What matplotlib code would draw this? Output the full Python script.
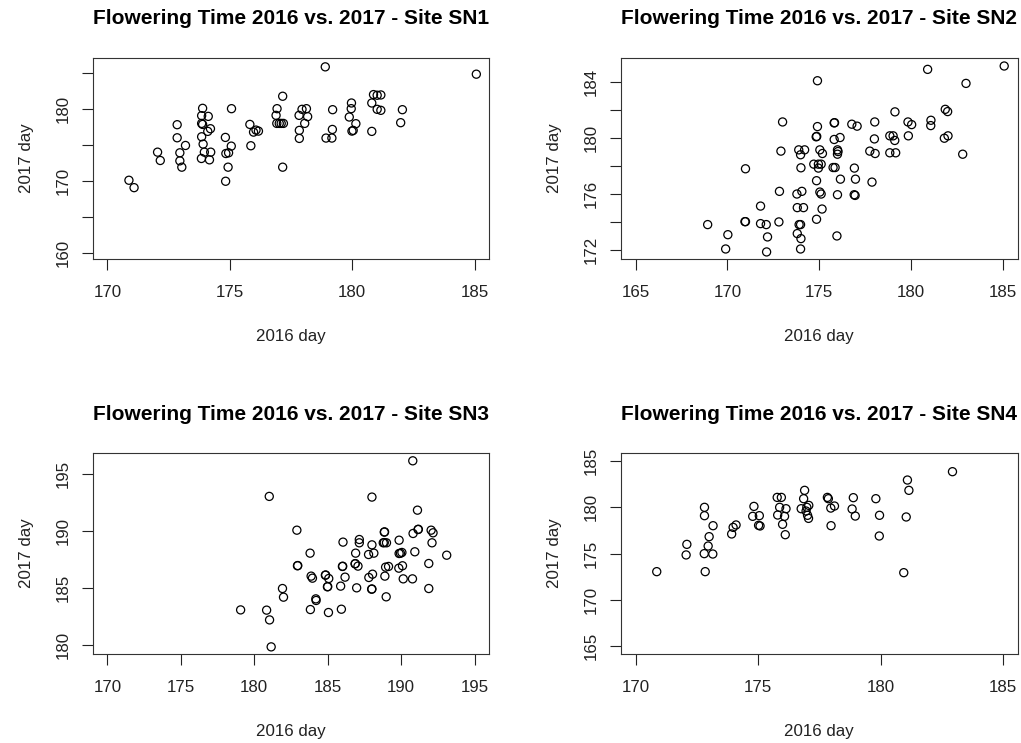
import matplotlib
matplotlib.use("Agg")
import matplotlib.pyplot as plt

plt.rcParams['font.family'] = ['Liberation Sans', 'DejaVu Sans']

# ---- data: (2016 day, 2017 day), jittered as in the reference ----
sn1_x = [170.88, 171.09, 172.05, 172.16, 172.85, 172.85, 172.96, 172.96, 173.04, 173.19,
         173.89, 173.85, 174.12, 173.85, 173.89, 174.21, 174.10, 173.85, 173.91, 173.96,
         174.22, 173.84, 174.17, 175.07, 174.82, 175.06, 174.84, 174.95, 174.93, 174.83,
         175.82, 175.97, 176.07, 176.17, 175.86, 177.16, 176.93, 176.89, 176.92, 177.02,
         177.10, 177.19, 177.16, 178.90, 177.83, 177.95, 178.13, 178.18, 178.06, 177.84,
         177.84, 178.93, 179.17, 179.19, 179.20, 179.97, 179.96, 179.88, 180.15, 179.99,
         180.04, 180.80, 180.87, 181.02, 181.17, 181.02, 181.17, 180.80, 182.05, 181.98,
         185.07]
sn1_y = [170.13, 169.10, 174.04, 172.88, 177.86, 176.04, 173.95, 172.83, 171.95, 174.97,
         180.14, 179.12, 179.02, 178.04, 177.90, 177.30, 176.93, 176.18, 175.16, 174.04,
         174.04, 173.16, 172.97, 180.09, 176.09, 174.88, 173.85, 173.95, 171.95, 169.99,
         177.90, 176.83, 177.11, 176.97, 174.93, 181.82, 180.09, 179.16, 178.04, 178.04,
         178.04, 178.04, 171.95, 185.91, 179.16, 180.00, 180.09, 178.98, 178.04, 177.07,
         175.95, 176.00, 176.00, 177.20, 179.95, 180.88, 180.09, 178.93, 178.00, 176.97,
         177.07, 180.88, 182.05, 181.96, 182.00, 180.00, 179.86, 176.93, 179.95, 178.14,
         184.89]

sn2_x = [168.92, 170.02, 169.90, 170.95, 170.98, 170.98, 171.80, 171.80, 172.11, 172.18,
         172.13, 172.80, 172.83, 172.91, 173.00, 173.78, 174.05, 173.80, 174.14, 173.90,
         173.98, 173.80, 174.00, 173.98, 173.88, 174.20, 173.98, 174.00, 174.90, 174.90,
         174.83, 174.86, 174.70, 174.95, 175.10, 174.95, 175.03, 175.17, 174.85, 175.03,
         175.10, 175.15, 174.85, 175.81, 175.83, 175.81, 176.13, 175.99, 175.99, 176.02,
         175.75, 175.86, 176.15, 175.99, 175.96, 176.77, 177.06, 176.91, 176.97, 176.90,
         176.95, 177.87, 177.75, 178.04, 178.02, 178.00, 178.84, 179.02, 179.11, 178.84,
         179.16, 179.12, 179.85, 179.83, 180.03, 180.90, 181.08, 181.07, 181.86, 181.99,
         181.81, 182.01, 182.81, 182.99, 185.07]
sn2_y = [173.83, 173.11, 172.09, 174.04, 174.04, 177.81, 175.15, 173.90, 173.83, 172.95,
         171.88, 174.02, 176.20, 179.07, 181.15, 176.01, 176.20, 175.04, 175.04, 173.83,
         173.83, 173.19, 172.83, 172.09, 179.16, 179.16, 178.81, 177.88, 184.09, 180.82,
         180.09, 180.12, 178.14, 178.14, 178.14, 177.86, 179.16, 178.90, 176.96, 176.15,
         176.01, 174.94, 174.21, 181.08, 181.10, 179.90, 180.04, 179.16, 178.85, 179.04,
         177.90, 177.90, 177.07, 175.96, 173.02, 180.99, 180.85, 177.86, 177.07, 175.96,
         175.91, 176.86, 179.07, 178.90, 181.15, 179.94, 180.16, 180.16, 179.83, 178.95,
         178.95, 181.87, 180.16, 181.15, 180.96, 184.90, 181.27, 180.89, 182.05, 181.89,
         179.99, 180.16, 178.85, 183.90, 185.14]

sn3_x = [190.79, 181.02, 188.01, 191.11, 182.90, 188.85, 188.87, 190.81, 191.15, 191.17,
         192.04, 192.17, 186.04, 187.15, 187.15, 188.01, 188.78, 188.85, 189.00, 189.86,
         192.10, 183.80, 186.90, 187.78, 188.14, 189.86, 189.95, 190.05, 190.93, 193.10,
         182.94, 182.96, 186.00, 186.02, 186.86, 186.88, 187.06, 188.94, 189.14, 189.84,
         190.09, 191.88, 183.87, 183.96, 184.84, 184.86, 185.07, 186.18, 187.80, 188.05,
         188.89, 190.14, 190.77, 181.92, 181.99, 184.19, 184.21, 184.98, 185.00, 185.88,
         186.97, 187.99, 188.01, 188.98, 191.88, 179.07, 180.84, 181.04, 183.82, 185.05,
         185.93, 181.15]
sn3_y = [196.17, 193.04, 192.98, 191.83, 190.07, 189.90, 189.92, 189.78, 190.13, 190.15,
         190.07, 189.84, 189.02, 189.25, 188.96, 188.78, 188.96, 188.98, 188.96, 189.19,
         188.96, 188.05, 188.05, 187.93, 188.05, 188.02, 188.04, 188.11, 188.17, 187.87,
         186.94, 186.96, 186.88, 186.90, 187.11, 187.13, 186.91, 186.82, 186.88, 186.73,
         186.94, 187.14, 186.03, 185.85, 186.11, 186.13, 185.82, 185.94, 185.91, 186.20,
         186.03, 185.79, 185.79, 184.94, 184.18, 184.03, 183.89, 185.09, 185.11, 185.15,
         185.00, 184.88, 184.90, 184.21, 184.94, 183.06, 183.04, 182.18, 183.09, 182.83,
         183.12, 179.81]

sn4_x = [170.86, 172.09, 172.06, 172.81, 172.81, 173.16, 173.00, 172.96, 172.80, 173.15,
         172.84, 173.92, 173.98, 174.10, 174.83, 174.78, 175.05, 175.02, 175.08, 175.78,
         175.95, 175.88, 176.14, 175.80, 176.08, 176.00, 176.11, 176.90, 176.86, 176.76,
         176.99, 177.07, 176.96, 177.02, 177.06, 177.83, 177.87, 177.97, 178.12, 177.98,
         178.89, 178.84, 178.97, 179.81, 179.96, 179.95, 181.10, 181.16, 181.05, 180.95,
         182.94]
sn4_y = [173.05, 175.99, 174.85, 179.98, 179.08, 178.00, 176.82, 175.81, 174.99, 174.95,
         173.05, 177.11, 177.82, 178.08, 180.08, 179.01, 179.08, 178.04, 177.97, 181.05,
         181.05, 179.98, 179.83, 179.15, 179.01, 178.15, 177.03, 181.81, 180.91, 179.83,
         179.98, 180.19, 179.58, 179.12, 178.79, 181.05, 180.91, 179.90, 180.12, 178.00,
         181.02, 179.80, 179.04, 180.91, 179.12, 176.89, 182.92, 181.81, 178.94, 172.94,
         183.82]

sites = ["SN1", "SN2", "SN3", "SN4"]
xs = [sn1_x, sn2_x, sn3_x, sn4_x]
ys = [sn1_y, sn2_y, sn3_y, sn4_y]
xticks = [[170, 175, 180, 185], [165, 170, 175, 180, 185],
          [170, 175, 180, 185, 190, 195], [170, 175, 180, 185]]
yticks = [[160, 165, 170, 175, 180, 185], [172, 174, 176, 178, 180, 182, 184],
          [180, 185, 190, 195], [165, 170, 175, 180, 185]]
# labels R kept (overlapping ones are dropped)
ytick_labels = [["160", "", "170", "", "180", ""],
                ["172", "", "176", "", "180", "", "184"],
                ["180", "185", "190", "195"],
                ["165", "170", "175", "180", "185"]]
xlims = [(169.4, 185.6), (164.2, 185.8), (169.0, 196.0), (169.4, 185.6)]
ylims = [(159.2, 187.1), (171.39, 185.69), (179.2, 196.83), (164.2, 185.8)]

W, H = 1021, 743
fig = plt.figure(figsize=(W / 100, H / 100), dpi=100)

# page-pixel boxes: left, top
boxes = [(92.7, 58.3), (621.0, 58.3), (92.7, 453.3), (621.0, 453.3)]
bw, bh = 396.6, 200.5

for i in range(4):
    l, t = boxes[i]
    ax = fig.add_axes([l / W, 1 - (t + bh) / H, bw / W, bh / H])
    ax.scatter(xs[i], ys[i], s=34, facecolors='none', edgecolors='black', linewidths=0.9)
    ax.set_xlim(*xlims[i])
    ax.set_ylim(*ylims[i])
    ax.set_xticks(xticks[i])
    ax.set_yticks(yticks[i])
    ax.set_yticklabels(ytick_labels[i], rotation=90, va='center')
    ax.tick_params(axis='both', direction='out', length=7.7, width=0.8, colors='#222222',
                   labelsize=12.2, labelcolor='#222222')
    ax.tick_params(axis='x', pad=11.5)
    ax.tick_params(axis='y', pad=8.4)
    for sp in ax.spines.values():
        sp.set_linewidth(0.8)
        sp.set_color('#333333')
    ax.set_xlabel("2016 day", fontsize=12.2, labelpad=20.5, color='#222222')
    ax.set_ylabel("2017 day", fontsize=12.2, labelpad=15.5, color='#222222')
    fig.text((l + bw / 2) / W, 1 - 19 / H if i < 2 else 1 - 414 / H,
             f"Flowering Time 2016 vs. 2017 - Site {sites[i]}",
             ha='center', va='center', fontsize=15, fontweight='bold')

fig.savefig("out.png", dpi=100)
